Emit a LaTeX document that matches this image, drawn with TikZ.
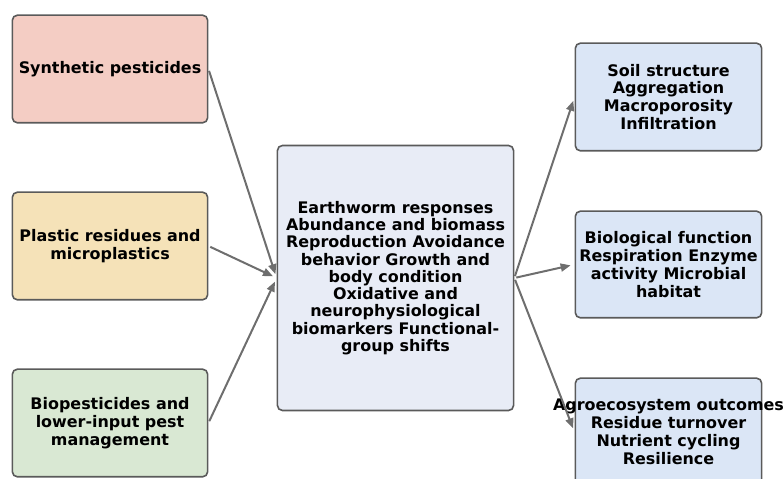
\documentclass[tikz,border=0pt]{standalone}
\usepackage{fontspec}
\setmainfont{DejaVu Sans}
\usetikzlibrary{arrows.meta}

\definecolor{synfill}{HTML}{F4CDC4}
\definecolor{plafill}{HTML}{F5E2B8}
\definecolor{biofill}{HTML}{D9E8D3}
\definecolor{ewfill}{HTML}{E8ECF6}
\definecolor{outfill}{HTML}{DBE6F6}
\definecolor{boxline}{HTML}{5A5A5A}
\definecolor{arrowgray}{HTML}{6E6E6E}

\begin{document}
\begin{tikzpicture}[x=1bp, y=1bp,
    box/.style={draw=boxline, line width=1.6bp, rounded corners=5bp, align=center,
      inner sep=0pt, font=\fontsize{16}{18}\selectfont\bfseries},
    link/.style={draw=arrowgray, line width=2bp, -{Triangle[length=10bp,width=8bp]},
      shorten >=4bp, shorten <=2bp}]
    \clip (0,0) rectangle (783,479);
    \useasboundingbox (0,0) rectangle (783,479);

    % drivers
    \node[box, fill=synfill, minimum width=196, minimum height=108] (syn) at (110,410) {Synthetic pesticides};
    \node[box, fill=plafill, minimum width=196, minimum height=108] (pla) at (110,233) {Plastic residues and\\microplastics};
    \node[box, fill=biofill, minimum width=196, minimum height=108] (bio) at (110,56) {Biopesticides and\\lower-input pest\\management};

    % earthworm responses
    \node[box, fill=ewfill, minimum width=237, minimum height=266,
        font=\fontsize{16}{17.3}\selectfont\bfseries] (ew) at (395.5,201)
        {Earthworm responses\\Abundance and biomass\\Reproduction Avoidance\\behavior Growth and\\body condition\\Oxidative and\\neurophysiological\\biomarkers Functional-\\group shifts};

    % outcomes
    \node[box, fill=outfill, minimum width=187, minimum height=108] (soil) at (668.5,382) {Soil structure\\Aggregation\\Macroporosity\\Infiltration};
    \node[box, fill=outfill, minimum width=187, minimum height=107] (biol) at (668.5,214.5) {Biological function\\Respiration Enzyme\\activity Microbial\\habitat};
    \node[box, fill=outfill, minimum width=187, minimum height=108] (agro) at (668.5,47) {\makebox[0pt]{Agroecosystem outcomes}\\Residue turnover\\Nutrient cycling\\Resilience};

    \draw[link] (syn.east) -- (ew.west);
    \draw[link] (pla.east) -- (ew.west);
    \draw[link] (bio.east) -- (ew.west);
    \draw[link] (ew.east) -- (soil.west);
    \draw[link] (ew.east) -- (biol.west);
    \draw[link] (ew.east) -- (agro.west);
\end{tikzpicture}
\end{document}
